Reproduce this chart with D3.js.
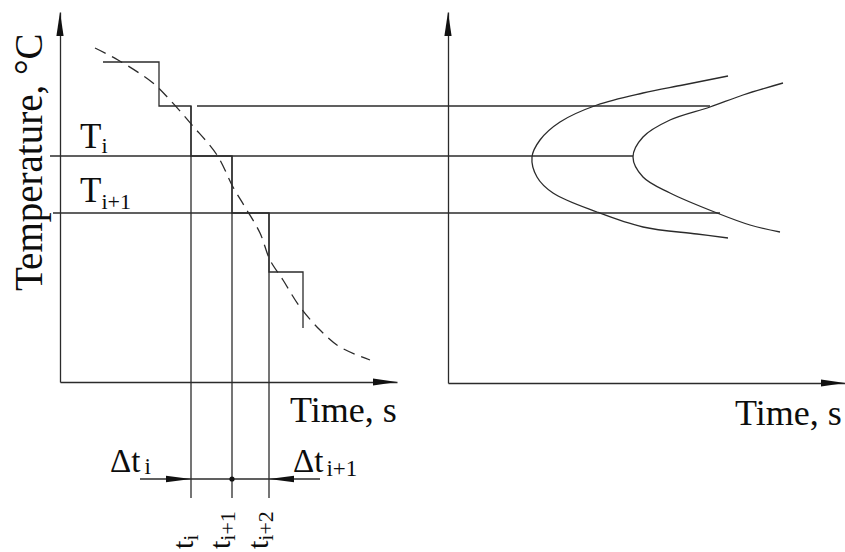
<!DOCTYPE html>
<html>
<head>
<meta charset="utf-8">
<script src="https://cdn.jsdelivr.net/npm/d3@7"></script>
<style>
  html, body { margin: 0; padding: 0; background: #fff; }
  svg { display: block; }
  text { font-family: "Liberation Serif", "Times New Roman", serif; fill: #0d0d0d; }
</style>
</head>
<body>
<svg id="chart" width="845" height="552"></svg>
<script>
// ---------- data (schematic units: time along x, temperature along y) ----------
// Left panel: stepwise cooling approximation
const stepTimes = [43, 99, 131, 172, 209, 243];
const stepTemps = [320, 276, 226, 169, 110, 54];

// Left panel: smooth (dashed) cooling curve
const coolTimes = [35, 58, 93, 110, 132, 157, 173, 185, 200, 210, 223, 240, 260, 280, 310];
const coolTemps = [334, 322, 299, 282, 257, 227, 195, 175, 149, 122, 102, 75, 52, 35, 22];

// Temperature levels (horizontal lines): start on left panel, end on right panel
const levelTemps  = [276, 226, 169];
const levelStartL = [137, -10, -7];
const levelEndR   = [262, 185, 272];
const levelLabels = ["", "i", "i+1"];

// Time marks t_i, t_{i+1}, t_{i+2}
const markTimes  = [131, 172, 209];
const markLabels = ["i", "i+1", "i+2"];

// Right panel: C-curves (start / finish of transformation)
const outerTimes = [280, 235, 195, 149, 112, 92, 84, 89, 105, 149, 195, 249, 280];
const outerTemps = [306, 297, 289, 277, 260, 242, 225, 205, 189, 170, 155, 148, 144];
const innerTimes = [335, 295, 262, 222, 195, 185, 195, 222, 269, 302, 332];
const innerTemps = [299, 287, 275, 262, 245, 225, 205, 189, 169, 157, 150];

// ---------- scales ----------
const xL = d3.scaleLinear().domain([0, 337]).range([60, 397]);
const xR = d3.scaleLinear().domain([0, 397]).range([448, 845]);
const y  = d3.scaleLinear().domain([0, 370]).range([382, 12]);

const svg = d3.select("#chart");
const ink = "#2b2b2b";
const sw = 1.3;

// ---------- axes ----------
svg.append("g").attr("transform", `translate(0,${y(0)})`)
  .call(d3.axisBottom(xL).tickValues([]).tickSizeOuter(0));
svg.append("g").attr("transform", `translate(${xL(0)},0)`)
  .call(d3.axisLeft(y).tickValues([]).tickSizeOuter(0));
svg.append("g").attr("transform", `translate(0,${y(-1)})`)
  .call(d3.axisBottom(xR).tickValues([]).tickSizeOuter(0));
svg.append("g").attr("transform", `translate(${xR(0)},0)`)
  .call(d3.axisLeft(d3.scaleLinear().domain([0, 370]).range([383, 12])).tickValues([]).tickSizeOuter(0));
svg.selectAll(".domain").attr("stroke", ink).attr("stroke-width", sw);

// arrowheads
function arrow(tipX, tipY, dir, len = 24, half = 3.6) {
  let pts;
  if (dir === "up") pts = [[tipX, tipY], [tipX - half, tipY + len], [tipX + half, tipY + len]];
  else if (dir === "right") pts = [[tipX, tipY], [tipX - len, tipY - half], [tipX - len, tipY + half]];
  else pts = [[tipX, tipY], [tipX + len, tipY - half], [tipX + len, tipY + half]];
  svg.append("path").attr("d", d3.line()(pts) + "Z").attr("fill", "#111");
}
arrow(xL(0), y(370), "up");
arrow(xL(337), y(0), "right");
arrow(xR(0), y(370), "up");
arrow(xR(397), y(-1), "right");

// ---------- level lines ----------
levelTemps.forEach((T, i) => {
  svg.append("line")
    .attr("x1", xL(levelStartL[i])).attr("x2", xR(levelEndR[i]))
    .attr("y1", y(T)).attr("y2", y(T))
    .attr("stroke", ink).attr("stroke-width", sw);
});

// ---------- time mark lines ----------
const dimY = 479;
markTimes.forEach((t, i) => {
  svg.append("line")
    .attr("x1", xL(t)).attr("x2", xL(t))
    .attr("y1", y(levelTemps[i])).attr("y2", 498)
    .attr("stroke", ink).attr("stroke-width", sw);
});

// ---------- step curve ----------
const stepData = stepTimes.map((t, i) => [t, stepTemps[i]]);
svg.append("path")
  .attr("d", d3.line().x(d => xL(d[0])).y(d => y(d[1])).curve(d3.curveStepAfter)(stepData))
  .attr("fill", "none").attr("stroke", ink).attr("stroke-width", sw);

// ---------- dashed cooling curve ----------
const coolData = coolTimes.map((t, i) => [t, coolTemps[i]]);
svg.append("path")
  .attr("d", d3.line().x(d => xL(d[0])).y(d => y(d[1])).curve(d3.curveCatmullRom)(coolData))
  .attr("fill", "none").attr("stroke", ink).attr("stroke-width", sw)
  .attr("stroke-dasharray", "12,7");

// ---------- right panel C-curves ----------
const cLine = d3.line().x(d => xR(d[0])).y(d => y(d[1])).curve(d3.curveCatmullRom);
svg.append("path")
  .attr("d", cLine(outerTimes.map((t, i) => [t, outerTemps[i]])))
  .attr("fill", "none").attr("stroke", ink).attr("stroke-width", sw);
svg.append("path")
  .attr("d", cLine(innerTimes.map((t, i) => [t, innerTemps[i]])))
  .attr("fill", "none").attr("stroke", ink).attr("stroke-width", sw);

// ---------- dimension line with arrows ----------
svg.append("line").attr("x1", 140).attr("x2", 320).attr("y1", dimY).attr("y2", dimY)
  .attr("stroke", ink).attr("stroke-width", sw);
arrow(xL(markTimes[0]), dimY, "right", 25, 3.2);
arrow(xL(markTimes[2]), dimY, "left", 25, 3.2);
svg.append("circle").attr("cx", xL(markTimes[1])).attr("cy", dimY).attr("r", 2.6).attr("fill", "#111");

// ---------- texts ----------
svg.append("text")
  .attr("transform", `translate(42,291) rotate(-90)`)
  .attr("font-size", 39)
  .text("Temperature, °C");

svg.append("text").attr("x", 290).attr("y", 422).attr("font-size", 36).text("Time, s");
svg.append("text").attr("x", 735).attr("y", 425).attr("font-size", 36).text("Time, s");

// T labels
const tl1 = svg.append("text").attr("x", 80).attr("y", 148).attr("font-size", 35);
tl1.append("tspan").text("T");
tl1.append("tspan").attr("font-size", 22).attr("dy", 5).text(levelLabels[1]);
const tl2 = svg.append("text").attr("x", 80).attr("y", 202).attr("font-size", 35);
tl2.append("tspan").text("T");
tl2.append("tspan").attr("font-size", 22).attr("dy", 7).text(levelLabels[2]);

// Delta labels
const d1 = svg.append("text").attr("x", 110).attr("y", 472).attr("font-size", 33);
d1.append("tspan").text("Δt");
d1.append("tspan").attr("font-size", 23).attr("dx", 4).attr("dy", 2).text(markLabels[0]);
const d2 = svg.append("text").attr("x", 293).attr("y", 472).attr("font-size", 33);
d2.append("tspan").text("Δt");
d2.append("tspan").attr("font-size", 23).attr("dx", 3).attr("dy", 4).text(markLabels[1]);

// rotated time labels
const rotX = [193, 230, 268];
markTimes.forEach((t, i) => {
  const g = svg.append("text")
    .attr("transform", `translate(${rotX[i]},549) rotate(-90)`)
    .attr("font-size", 30);
  g.append("tspan").text("t");
  g.append("tspan").attr("font-size", 22).attr("dy", 5).text(markLabels[i]);
});
</script>
</body>
</html>
